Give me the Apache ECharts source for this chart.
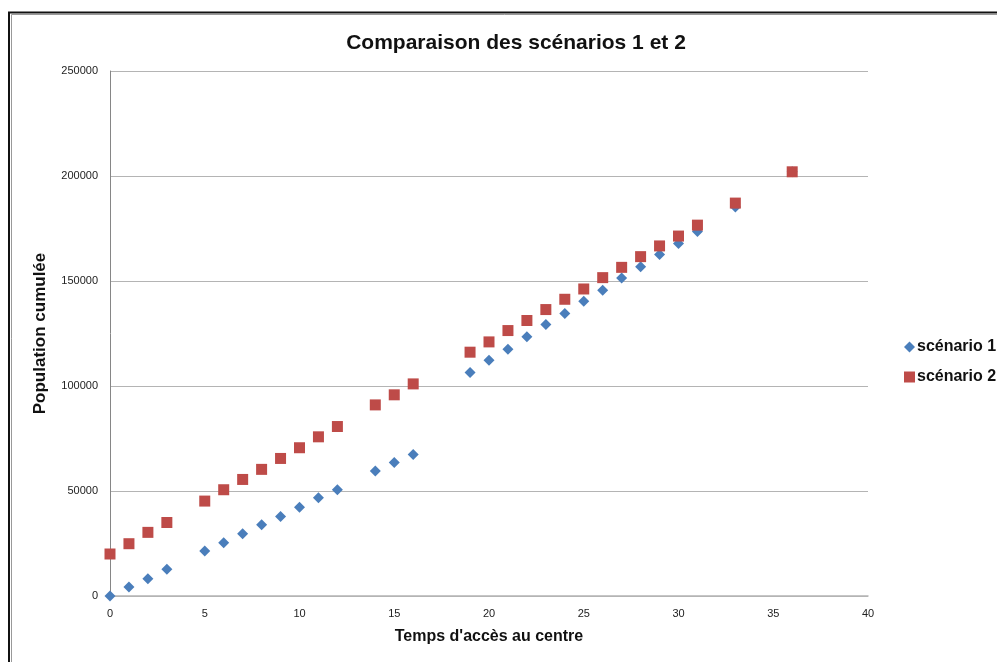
<!DOCTYPE html>
<html>
<head>
<meta charset="utf-8">
<script src="https://cdn.jsdelivr.net/npm/echarts@6/dist/echarts.min.js"></script>
<style>html,body{margin:0;padding:0;background:#fff;}#c{width:997px;height:662px;}</style>
</head>
<body>
<div id="c"></div>
<script>
const xs1 = [0,1,2,3,5,6,7,8,9,10,11,12,14,15,16,19,20,21,22,23,24,25,26,27,28,29,30,31,33,36];
const scenario1 = [0,4300,8200,12700,21400,25400,29600,33900,37900,42300,46800,50600,59500,63600,67400,106400,112300,117500,123400,129300,134500,140300,145600,151400,156800,162600,167900,173600,185200,202000];
const xs2 = [0,1,2,3,5,6,7,8,9,10,11,12,14,15,16,19,20,21,22,23,24,25,26,27,28,29,30,31,33,36];
const scenario2 = [20000,24900,30300,35000,45200,50600,55500,60300,65500,70600,75800,80700,91000,95800,101000,116100,121000,126400,131200,136400,141300,146200,151600,156500,161600,166700,171400,176600,187100,202000];
const seriesNames = ['scénario 1','scénario 2'];

const chart = echarts.init(document.getElementById('c'), null, {renderer:'canvas'});
const font = "'Liberation Sans', Arial, sans-serif";
chart.setOption({
  animation:false,
  backgroundColor:'#fff',
  textStyle:{fontFamily:font},
  title:{
    text:'Comparaison des scénarios 1 et 2',
    left:511, textAlign:'center', top:28, itemGap:0,
    textStyle:{fontFamily:font,fontSize:21,fontWeight:'bold',color:'#111'}
  },
  graphic:[
    {type:'rect',shape:{x:9,y:12.5,width:1100,height:800},style:{fill:'none',stroke:'#111',lineWidth:2},silent:true},
    {type:'rect',shape:{x:11.5,y:14.5,width:1100,height:800},style:{fill:'none',stroke:'#999',lineWidth:1},silent:true}
  ],
  legend:{
    orient:'vertical', left:899, top:333, itemGap:12,
    itemWidth:11, itemHeight:11,
    textStyle:{fontFamily:font,fontSize:16,fontWeight:'bold',color:'#111',padding:[0,0,0,-3],lineHeight:18},
    data:[{name:seriesNames[0],icon:'diamond',itemStyle:{opacity:1}},{name:seriesNames[1],icon:'rect',itemStyle:{opacity:1}}]
  },
  grid:{left:110, top:71, width:758, height:525, containLabel:false},
  xAxis:{
    type:'value', min:0, max:40, interval:5,
    name:"Temps d'accès au centre", nameLocation:'middle', nameGap:33,
    nameTextStyle:{fontFamily:font,fontSize:16,fontWeight:'bold',color:'#111'},
    axisLine:{show:true,onZero:false,lineStyle:{color:'#b4b4b4',width:1.5}},
    axisTick:{show:false},
    axisLabel:{fontFamily:font,fontSize:11,color:'#222',margin:12},
    splitLine:{show:false}
  },
  yAxis:{
    type:'value', min:0, max:250000, interval:50000,
    name:'Population cumulée', nameLocation:'middle', nameGap:61, nameRotate:90,
    nameTextStyle:{fontFamily:font,fontSize:17,fontWeight:'bold',color:'#111'},
    axisLine:{show:true,lineStyle:{color:'#868686',width:1}},
    axisTick:{show:false},
    axisLabel:{fontFamily:font,fontSize:11,color:'#222',margin:12,formatter:function(v){return String(v);}},
    splitLine:{show:true,lineStyle:{color:'#b4b4b4',width:1.2}}
  },
  series:[
    {name:seriesNames[0],type:'scatter',symbol:'diamond',symbolSize:11,
     itemStyle:{color:'#4a7ebb',opacity:1},
     data:xs1.map((x,i)=>[x,scenario1[i]])},
    {name:seriesNames[1],type:'scatter',symbol:'rect',symbolSize:11,
     itemStyle:{color:'#be4b48',opacity:1},
     data:xs2.map((x,i)=>[x,scenario2[i]])}
  ]
});
</script>
</body>
</html>
